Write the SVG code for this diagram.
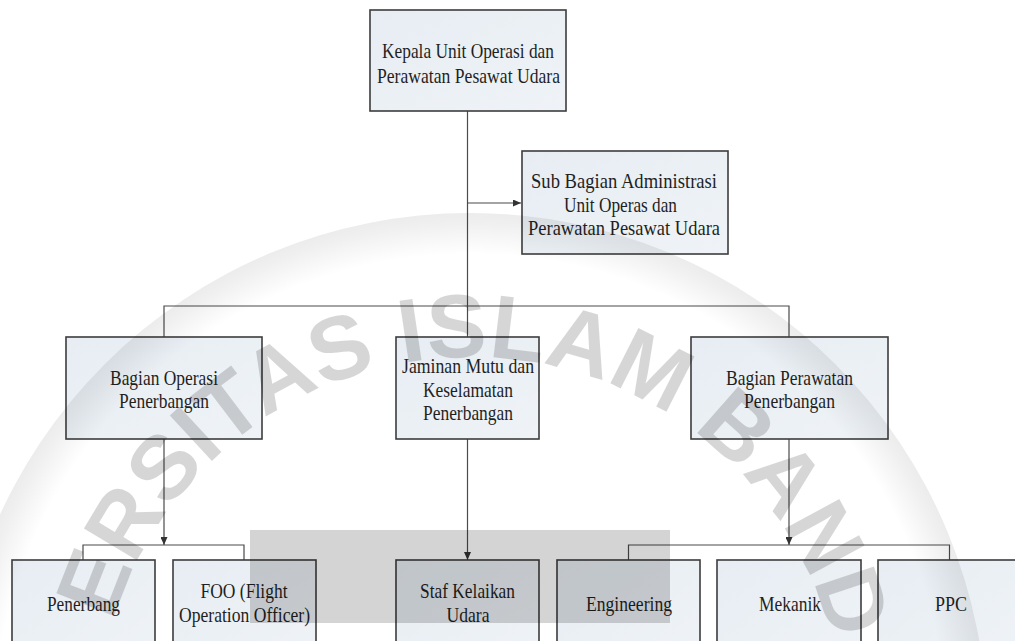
<svg xmlns="http://www.w3.org/2000/svg" width="1015" height="641" viewBox="0 0 1015 641">
  <style>
    .box { fill: url(#boxFill); stroke: #3c3c3c; stroke-width: 1.6; }
    text.lbl { font-family: "Liberation Serif", serif; font-size: 21px; fill: #1f1f1f; text-anchor: middle; }
    .wire { fill: none; stroke: #4a4a4a; stroke-width: 1.2; }
    .mark { font-family: "Liberation Sans", Arial, sans-serif; font-weight: bold; font-size: 90px; fill: #000; fill-opacity: 0.16; }
  </style>
  <defs>
    <linearGradient id="boxFill" x1="0" y1="0" x2="1" y2="1">
      <stop offset="0" stop-color="#e7edf3"/>
      <stop offset="1" stop-color="#eff3f7"/>
    </linearGradient>
    <radialGradient id="ring" gradientUnits="userSpaceOnUse" cx="470" cy="730" r="517">
      <stop offset="0.92" stop-color="#000" stop-opacity="0"/>
      <stop offset="0.98" stop-color="#000" stop-opacity="0.06"/>
      <stop offset="1" stop-color="#000" stop-opacity="0.075"/>
    </radialGradient>
    <marker id="arrow" viewBox="0 0 8 7" refX="8" refY="3.5" markerWidth="8" markerHeight="7" markerUnits="userSpaceOnUse" orient="auto">
      <path d="M0,0 L8,3.5 L0,7 Z" fill="#333"/>
    </marker>
    <path id="markArc" d="M109.7,633.5 A373,373 0 0 1 834.8,652.4"/>
  </defs>

  <rect width="1015" height="641" fill="#ffffff"/>

  <!-- connectors -->
  <g id="connectors">
    <path class="wire" d="M467.5,111 V337"/>
    <path class="wire" d="M467.5,203 H521" marker-end="url(#arrow)"/>
    <path class="wire" d="M164,337 V306 H789 V337"/>
    <path class="wire" d="M164,439 V545" marker-end="url(#arrow)"/>
    <path class="wire" d="M83,560 V545 H244 V560"/>
    <path class="wire" d="M467.5,439 V560" marker-end="url(#arrow)"/>
    <path class="wire" d="M789,439 V545" marker-end="url(#arrow)"/>
    <path class="wire" d="M628.5,560 V545 H949.5 V560"/>
  </g>

  <g id="kepala">
    <rect class="box" x="370" y="10" width="196" height="101"/>
    <text class="lbl" font-family="Liberation Serif, serif" x="468" y="58" textLength="172" lengthAdjust="spacingAndGlyphs">Kepala Unit Operasi dan</text>
    <text class="lbl" font-family="Liberation Serif, serif" x="468.5" y="83" textLength="183" lengthAdjust="spacingAndGlyphs">Perawatan Pesawat Udara</text>
  </g>

  <g id="sub-administrasi">
    <rect class="box" x="522" y="151" width="206" height="103"/>
    <text class="lbl" font-family="Liberation Serif, serif" x="624" y="188" textLength="186" lengthAdjust="spacingAndGlyphs">Sub Bagian Administrasi</text>
    <text class="lbl" font-family="Liberation Serif, serif" x="620.5" y="211.5" textLength="113" lengthAdjust="spacingAndGlyphs">Unit Operas dan</text>
    <text class="lbl" font-family="Liberation Serif, serif" x="624" y="235" textLength="192" lengthAdjust="spacingAndGlyphs">Perawatan Pesawat Udara</text>
  </g>

  <g id="bagian-operasi">
    <rect class="box" x="66" y="337" width="196" height="102"/>
    <text class="lbl" font-family="Liberation Serif, serif" x="164" y="384.5" textLength="108" lengthAdjust="spacingAndGlyphs">Bagian Operasi</text>
    <text class="lbl" font-family="Liberation Serif, serif" x="164" y="408" textLength="90" lengthAdjust="spacingAndGlyphs">Penerbangan</text>
  </g>

  <g id="jaminan-mutu">
    <rect class="box" x="396" y="337" width="143" height="102"/>
    <text class="lbl" font-family="Liberation Serif, serif" x="468" y="373" textLength="132" lengthAdjust="spacingAndGlyphs">Jaminan Mutu dan</text>
    <text class="lbl" font-family="Liberation Serif, serif" x="468" y="396.5" textLength="90" lengthAdjust="spacingAndGlyphs">Keselamatan</text>
    <text class="lbl" font-family="Liberation Serif, serif" x="468" y="420" textLength="90" lengthAdjust="spacingAndGlyphs">Penerbangan</text>
  </g>

  <g id="bagian-perawatan">
    <rect class="box" x="691" y="337" width="197" height="102"/>
    <text class="lbl" font-family="Liberation Serif, serif" x="789.5" y="384.5" textLength="127" lengthAdjust="spacingAndGlyphs">Bagian Perawatan</text>
    <text class="lbl" font-family="Liberation Serif, serif" x="789.5" y="408" textLength="91" lengthAdjust="spacingAndGlyphs">Penerbangan</text>
  </g>

  <g id="penerbang">
    <rect class="box" x="12" y="560" width="143" height="100"/>
    <text class="lbl" font-family="Liberation Serif, serif" x="83.5" y="610.5" textLength="73" lengthAdjust="spacingAndGlyphs">Penerbang</text>
  </g>

  <g id="foo">
    <rect class="box" x="173" y="560" width="143" height="100"/>
    <text class="lbl" font-family="Liberation Serif, serif" x="244" y="598" textLength="87" lengthAdjust="spacingAndGlyphs">FOO (Flight</text>
    <text class="lbl" font-family="Liberation Serif, serif" x="244.5" y="621.5" textLength="131" lengthAdjust="spacingAndGlyphs">Operation Officer)</text>
  </g>

  <g id="staf-kelaikan">
    <rect class="box" x="396" y="560" width="143" height="100"/>
    <text class="lbl" font-family="Liberation Serif, serif" x="467.5" y="598" textLength="95" lengthAdjust="spacingAndGlyphs">Staf Kelaikan</text>
    <text class="lbl" font-family="Liberation Serif, serif" x="468" y="621.5" textLength="43" lengthAdjust="spacingAndGlyphs">Udara</text>
  </g>

  <g id="engineering">
    <rect class="box" x="557" y="560" width="143" height="100"/>
    <text class="lbl" font-family="Liberation Serif, serif" x="629" y="610.5" textLength="86" lengthAdjust="spacingAndGlyphs">Engineering</text>
  </g>

  <g id="mekanik">
    <rect class="box" x="717" y="560" width="144" height="100"/>
    <text class="lbl" font-family="Liberation Serif, serif" x="790" y="610.5" textLength="62" lengthAdjust="spacingAndGlyphs">Mekanik</text>
  </g>

  <g id="ppc">
    <rect class="box" x="878" y="560" width="143" height="100"/>
    <text class="lbl" font-family="Liberation Serif, serif" x="951" y="610.5" textLength="32" lengthAdjust="spacingAndGlyphs">PPC</text>
  </g>

  <!-- translucent seal overlay: ring, arched lettering and shaded block -->
  <g id="watermark">
    <circle cx="470" cy="730" r="517" fill="url(#ring)"/>
    <text class="mark"><textPath href="#markArc" startOffset="12">ERSITAS ISLAM BAND</textPath></text>
    <rect x="250" y="530" width="420" height="93" fill="#000" fill-opacity="0.17"/>
  </g>
</svg>
